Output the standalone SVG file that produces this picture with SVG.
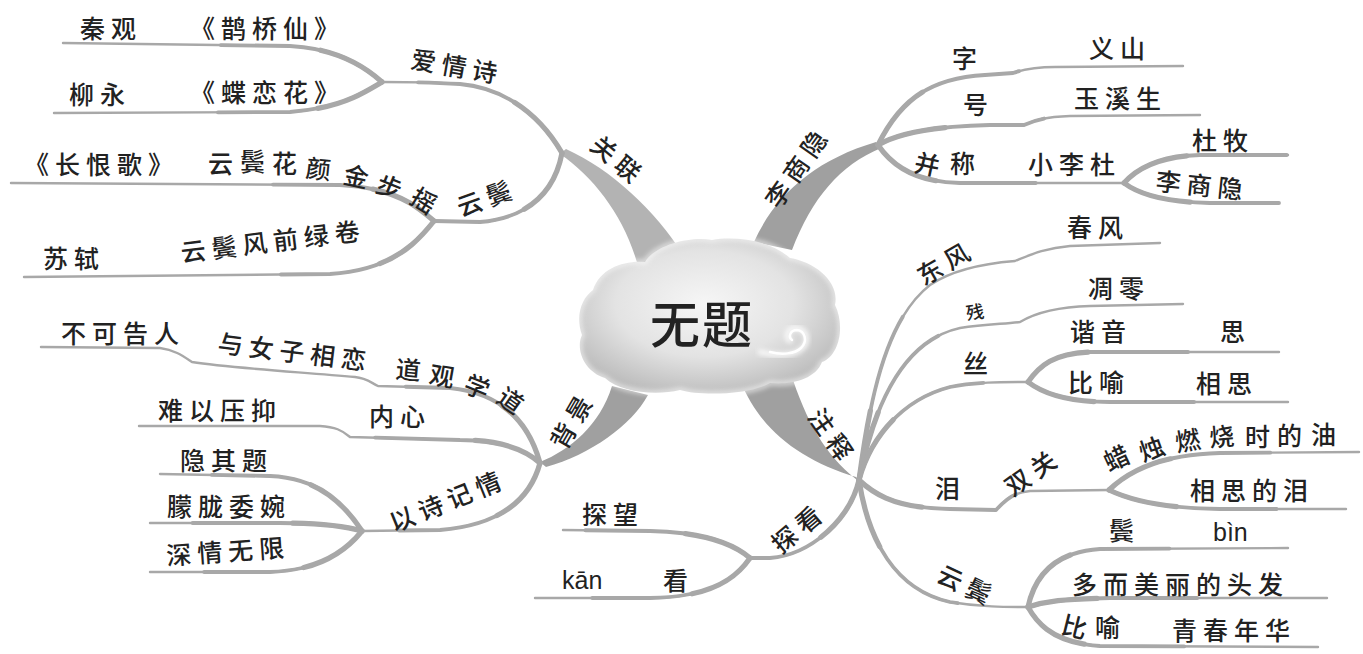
<svg xmlns="http://www.w3.org/2000/svg" xmlns:xlink="http://www.w3.org/1999/xlink" width="1363" height="654" viewBox="0 0 1363 654">
<style>
.t{font-family:"Noto Sans CJK SC","Noto Sans CJK TC",sans-serif;font-size:25px;font-weight:500;fill:#222;letter-spacing:6px}
.lat{font-family:"Liberation Sans","DejaVu Sans",sans-serif;font-size:25px;fill:#222}
.l1{fill:none;stroke:#a8a8a8;stroke-width:2.4;stroke-linecap:round;stroke-linejoin:round}
.l2{fill:none;stroke:#a8a8a8;stroke-width:3.8;stroke-linecap:round;stroke-linejoin:round;stroke-dasharray:170 3000}
.l3{fill:none;stroke:#a8a8a8;stroke-width:5.2;stroke-linecap:round;stroke-linejoin:round;stroke-dasharray:70 3000}
.tr{fill:#a0a0a0}
</style>
<defs>
<radialGradient id="cg" cx="48%" cy="42%" r="62%">
<stop offset="0" stop-color="#f6f6f6"/>
<stop offset="0.55" stop-color="#e3e3e3"/>
<stop offset="1" stop-color="#b9b9b9"/>
</radialGradient>
<filter id="blur" x="-10%" y="-10%" width="120%" height="120%"><feGaussianBlur stdDeviation="2.5"/></filter>
<path id="p_al" d="M 562,153 C 540,115 505,88 460,84 C 430,82 400,82 382,82"/>
<path id="p_qg" d="M 382,82 C 360,62 330,48 290,46 L 63,43"/>
<path id="p_ly" d="M 382,82 C 360,95 340,108 290,112 L 54,113"/>
<path id="p_yb" d="M 562,153 C 555,190 530,218 480,222 L 434,221"/>
<path id="p_chg" d="M 434,221 C 415,205 395,188 340,185 L 11,183"/>
<path id="p_ss" d="M 434,221 C 415,245 390,270 330,274 L 24,277"/>
<path id="p_z" d="M 878,145 C 900,100 930,78 985,75 L 1013,73 C 1025,69 1035,67 1055,67 L 1183,66"/>
<path id="p_h" d="M 878,145 C 900,132 940,126 990,125 L 1024,125 C 1035,120 1045,117 1070,116 L 1200,115"/>
<path id="p_bc" d="M 878,145 C 895,170 920,182 960,183 L 1124,183"/>
<path id="p_dm" d="M 1124,183 C 1140,165 1165,156 1200,155 L 1288,155"/>
<path id="p_lsy" d="M 1124,183 C 1140,195 1165,202 1210,203 L 1279,203"/>
<path id="p_df" d="M 859,480 C 870,400 885,320 930,285 C 955,268 990,263 1015,261 C 1030,255 1045,248 1070,246 L 1160,243"/>
<path id="p_c" d="M 859,480 C 875,400 905,340 960,328 C 985,324 1005,324 1020,322 C 1035,313 1055,307 1090,306 L 1183,304"/>
<path id="p_si" d="M 859,480 C 870,440 900,400 950,387 C 975,382 1000,382 1028,382"/>
<path id="p_xy" d="M 1028,382 C 1040,365 1055,353 1090,352 L 1279,352"/>
<path id="p_by" d="M 1028,382 C 1045,395 1070,402 1110,402 L 1288,402"/>
<path id="p_lei" d="M 859,480 C 880,500 905,508 950,509 L 996,510 C 1005,500 1012,493 1030,491 L 1109,490"/>
<path id="p_lz" d="M 1109,490 C 1130,470 1160,455 1220,453 L 1359,452"/>
<path id="p_xsl" d="M 1109,490 C 1130,500 1160,508 1220,509 L 1346,509"/>
<path id="p_yb2" d="M 859,480 C 868,540 895,590 950,602 C 980,607 1005,607 1028,607"/>
<path id="p_bin" d="M 1028,607 C 1035,575 1055,552 1100,549 L 1288,548"/>
<path id="p_dm2" d="M 1028,607 C 1050,600 1070,599 1110,598 L 1327,598"/>
<path id="p_qc" d="M 1028,607 C 1038,625 1055,643 1100,646 L 1318,647"/>
<path id="p_tk" d="M 859,480 C 850,520 810,555 770,558 L 750,558"/>
<path id="p_tw" d="M 750,558 C 735,545 705,532 650,531 L 563,530"/>
<path id="p_kan" d="M 750,558 C 735,580 710,597 650,598 L 535,598"/>
<path id="p_dg" d="M 540,463 C 528,420 500,393 450,388 L 378,386 C 370,382 366,378 355,377 C 300,372 230,368 192,362 C 183,356 175,350 160,348 L 41,347"/>
<path id="p_nx" d="M 540,463 C 520,445 490,440 460,440 L 350,437 C 342,430 335,427 320,426 L 139,426"/>
<path id="p_ys" d="M 540,463 C 530,500 500,525 440,530 L 362,531"/>
<path id="p_yqt" d="M 362,531 C 345,505 320,478 270,476 L 160,474"/>
<path id="p_ml" d="M 362,531 C 345,526 320,523 280,523 L 150,523"/>
<path id="p_sq" d="M 362,531 C 345,552 320,570 270,572 L 150,572"/>
</defs>
<rect width="1363" height="654" fill="#fff"/>
<g id="connectors">
<path class="tr" style="fill:#b3b3b3" d="M 560,154 C 595,178 625,218 638,266 L 684,256 C 655,210 612,170 566,149 Z"/>
<path class="tr" d="M 754,242 C 775,195 815,160 876,142 L 881,148 C 840,165 812,198 792,250 Z"/>
<path class="tr" d="M 540,462 C 570,450 600,425 612,386 L 648,395 C 632,425 590,455 546,467 Z"/>
<path class="tr" d="M 740,380 C 760,430 800,460 856,477 L 861,483 C 830,460 810,430 793,380 Z"/>
<use href="#p_al" class="l1"/><use href="#p_al" class="l2"/><use href="#p_al" class="l3"/>
<use href="#p_qg" class="l1"/><use href="#p_qg" class="l2"/><use href="#p_qg" class="l3"/>
<use href="#p_ly" class="l1"/><use href="#p_ly" class="l2"/><use href="#p_ly" class="l3"/>
<use href="#p_yb" class="l1"/><use href="#p_yb" class="l2"/><use href="#p_yb" class="l3"/>
<use href="#p_chg" class="l1"/><use href="#p_chg" class="l2"/><use href="#p_chg" class="l3"/>
<use href="#p_ss" class="l1"/><use href="#p_ss" class="l2"/><use href="#p_ss" class="l3"/>
<use href="#p_z" class="l1"/><use href="#p_z" class="l2"/><use href="#p_z" class="l3"/>
<use href="#p_h" class="l1"/><use href="#p_h" class="l2"/><use href="#p_h" class="l3"/>
<use href="#p_bc" class="l1"/><use href="#p_bc" class="l2"/><use href="#p_bc" class="l3"/>
<use href="#p_dm" class="l1"/><use href="#p_dm" class="l2"/><use href="#p_dm" class="l3"/>
<use href="#p_lsy" class="l1"/><use href="#p_lsy" class="l2"/><use href="#p_lsy" class="l3"/>
<use href="#p_df" class="l1"/><use href="#p_df" class="l2"/><use href="#p_df" class="l3"/>
<use href="#p_c" class="l1"/><use href="#p_c" class="l2"/><use href="#p_c" class="l3"/>
<use href="#p_si" class="l1"/><use href="#p_si" class="l2"/><use href="#p_si" class="l3"/>
<use href="#p_xy" class="l1"/><use href="#p_xy" class="l2"/><use href="#p_xy" class="l3"/>
<use href="#p_by" class="l1"/><use href="#p_by" class="l2"/><use href="#p_by" class="l3"/>
<use href="#p_lei" class="l1"/><use href="#p_lei" class="l2"/><use href="#p_lei" class="l3"/>
<use href="#p_lz" class="l1"/><use href="#p_lz" class="l2"/><use href="#p_lz" class="l3"/>
<use href="#p_xsl" class="l1"/><use href="#p_xsl" class="l2"/><use href="#p_xsl" class="l3"/>
<use href="#p_yb2" class="l1"/><use href="#p_yb2" class="l2"/><use href="#p_yb2" class="l3"/>
<use href="#p_bin" class="l1"/><use href="#p_bin" class="l2"/><use href="#p_bin" class="l3"/>
<use href="#p_dm2" class="l1"/><use href="#p_dm2" class="l2"/><use href="#p_dm2" class="l3"/>
<use href="#p_qc" class="l1"/><use href="#p_qc" class="l2"/><use href="#p_qc" class="l3"/>
<use href="#p_tk" class="l1"/><use href="#p_tk" class="l2"/><use href="#p_tk" class="l3"/>
<use href="#p_tw" class="l1"/><use href="#p_tw" class="l2"/><use href="#p_tw" class="l3"/>
<use href="#p_kan" class="l1"/><use href="#p_kan" class="l2"/><use href="#p_kan" class="l3"/>
<use href="#p_dg" class="l1"/><use href="#p_dg" class="l2"/><use href="#p_dg" class="l3"/>
<use href="#p_nx" class="l1"/><use href="#p_nx" class="l2"/><use href="#p_nx" class="l3"/>
<use href="#p_ys" class="l1"/><use href="#p_ys" class="l2"/><use href="#p_ys" class="l3"/>
<use href="#p_yqt" class="l1"/><use href="#p_yqt" class="l2"/><use href="#p_yqt" class="l3"/>
<use href="#p_ml" class="l1"/><use href="#p_ml" class="l2"/><use href="#p_ml" class="l3"/>
<use href="#p_sq" class="l1"/><use href="#p_sq" class="l2"/><use href="#p_sq" class="l3"/>
</g>
<g id="node-center">
<path d="M 593,290 C 600,268 625,260 645,262 C 655,245 690,236 712,240 C 735,236 770,240 790,258 C 815,262 840,282 835,305 C 845,325 840,355 822,362 C 815,380 790,385 770,383 C 750,395 700,396 680,390 C 655,396 620,392 605,378 C 585,372 575,350 582,335 C 575,315 582,298 593,290 Z" fill="url(#cg)"/>
<path d="M 593,290 C 600,268 625,260 645,262 C 655,245 690,236 712,240 C 735,236 770,240 790,258 C 815,262 840,282 835,305 C 845,325 840,355 822,362 C 815,380 790,385 770,383 C 750,395 700,396 680,390 C 655,396 620,392 605,378 C 585,372 575,350 582,335 C 575,315 582,298 593,290 Z" fill="none" stroke="#fff" stroke-width="4" opacity="0.7" filter="url(#blur)"/>
<path d="M 760,352 C 775,356 792,356 800,350 C 810,343 808,330 797,328 C 788,327 784,336 790,341" fill="none" stroke="#fafafa" stroke-width="5" stroke-linecap="round" filter="url(#blur)"/>
<path d="M 770,352 C 782,355 795,354 801,348 C 808,341 805,331 797,330 C 790,330 788,337 792,340" fill="none" stroke="#ffffff" stroke-width="2.5" stroke-linecap="round"/>
<text x="702" y="343" class="t" style="font-size:50px;letter-spacing:2px" text-anchor="middle">无题</text>
</g>
<g id="node-guanlian"><text class="t" transform="translate(618,161) rotate(40)" text-anchor="middle" y="9">关联</text></g>
<g id="node-aiqingshi"><text class="t" transform="translate(457,67) rotate(10)" text-anchor="middle" y="9">爱情诗</text></g>
<g id="node-qinguan"><text class="t" x="80" y="38">秦观</text><text class="t" x="190" y="38">《鹊桥仙》</text></g>
<g id="node-liuyong"><text class="t" x="69" y="104">柳永</text><text class="t" x="190" y="102">《蝶恋花》</text></g>
<g id="node-yunbin1"><text class="t" transform="translate(487,198) rotate(-20)" text-anchor="middle" y="9">云鬓</text></g>
<g id="node-changhenge"><text class="t" x="24" y="174">《长恨歌》</text><text class="t" x="208 240 272 305 342 374 408" y="173 171 173 177 183 191 202" rotate="0 0 0 6 12 22 32">云鬓花颜金步摇</text></g>
<g id="node-sushi"><text class="t" x="43" y="268">苏轼</text><text class="t" transform="translate(182,262) rotate(-7)">云鬓风前绿卷</text></g>
<g id="node-lishangyin"><text class="t" transform="translate(798,167) rotate(-55)" text-anchor="middle" y="9">李商隐</text></g>
<g id="node-zi"><text class="t" x="952" y="68">字</text><text class="t" x="1089" y="58">义山</text></g>
<g id="node-hao"><text class="t" x="963" y="114">号</text><text class="t" x="1074" y="108">玉溪生</text></g>
<g id="node-bingcheng"><text class="t" x="913" y="171" rotate="12">并</text><text class="t" x="950" y="173">称</text><text class="t" x="1028" y="174">小李杜</text></g>
<g id="node-dumu"><text class="t" x="1192" y="150">杜牧</text></g>
<g id="node-lishangyin2"><text class="t" transform="translate(1155,190) rotate(6)">李商隐</text></g>
<g id="node-zhushi"><text class="t" transform="translate(832,437) rotate(55)" text-anchor="middle" y="9">注释</text></g>
<g id="node-dongfeng"><text class="t" transform="translate(946,263) rotate(-30)" text-anchor="middle" y="9">东风</text><text class="t" x="1067" y="237">春风</text></g>
<g id="node-can"><text class="t" x="967" y="320" style="font-size:18px" transform="rotate(-8 967 320)">残</text><text class="t" x="1088" y="298">凋零</text></g>
<g id="node-si"><text class="t" x="963" y="373">丝</text><text class="t" x="1070" y="341">谐音</text><text class="t" x="1220" y="341">思</text><text class="t" x="1068" y="392">比喻</text><text class="t" x="1196" y="393">相思</text></g>
<g id="node-lei"><text class="t" x="935" y="498">泪</text><text class="t" transform="translate(1033,472) rotate(-35)" text-anchor="middle" y="9">双关</text>
<text class="t" x="1109 1143 1177 1210 1245 1277 1311" y="472 462 452 447 446 445 444" rotate="-25 -20 -10 -5 0 0 0">蜡烛燃烧时的油</text>
<text class="t" x="1190" y="500">相思的泪</text></g>
<g id="node-yunbin2"><text class="t" transform="translate(967,586) rotate(25)" text-anchor="middle" y="9">云鬓</text>
<text class="t" x="1109" y="540">鬓</text><text class="lat" x="1213" y="541">bìn</text>
<text class="t" x="1072" y="594">多而美丽的头发</text>
<text class="t" x="1060" y="633" rotate="14">比</text><text class="t" x="1095" y="637">喻</text><text class="t" x="1172" y="640">青春年华</text></g>
<g id="node-tankan"><text class="t" transform="translate(799,528) rotate(-40)" text-anchor="middle" y="9">探看</text>
<text class="t" x="582" y="524">探望</text><text class="lat" x="562" y="589">kān</text><text class="t" x="663" y="590">看</text></g>
<g id="node-beijing"><text class="t" transform="translate(573,420) rotate(-60)" text-anchor="middle" y="9">背景</text></g>
<g id="node-daoguan"><text class="t" x="61" y="343">不可告人</text><text class="t" transform="translate(217,352) rotate(7)">与女子相恋</text>
<text class="t" x="395 428 462 495" y="378 383 391 401" rotate="5 10 22 35">道观学道</text></g>
<g id="node-neixin"><text class="t" x="369" y="426">内心</text><text class="t" x="158" y="420">难以压抑</text></g>
<g id="node-yishijiqing"><text class="t" transform="translate(448,501) rotate(-22)" text-anchor="middle" y="9">以诗记情</text>
<text class="t" x="180" y="470">隐其题</text><text class="t" x="167" y="516">朦胧委婉</text><text class="t" transform="translate(167,565) rotate(-4)">深情无限</text></g>
</svg>
